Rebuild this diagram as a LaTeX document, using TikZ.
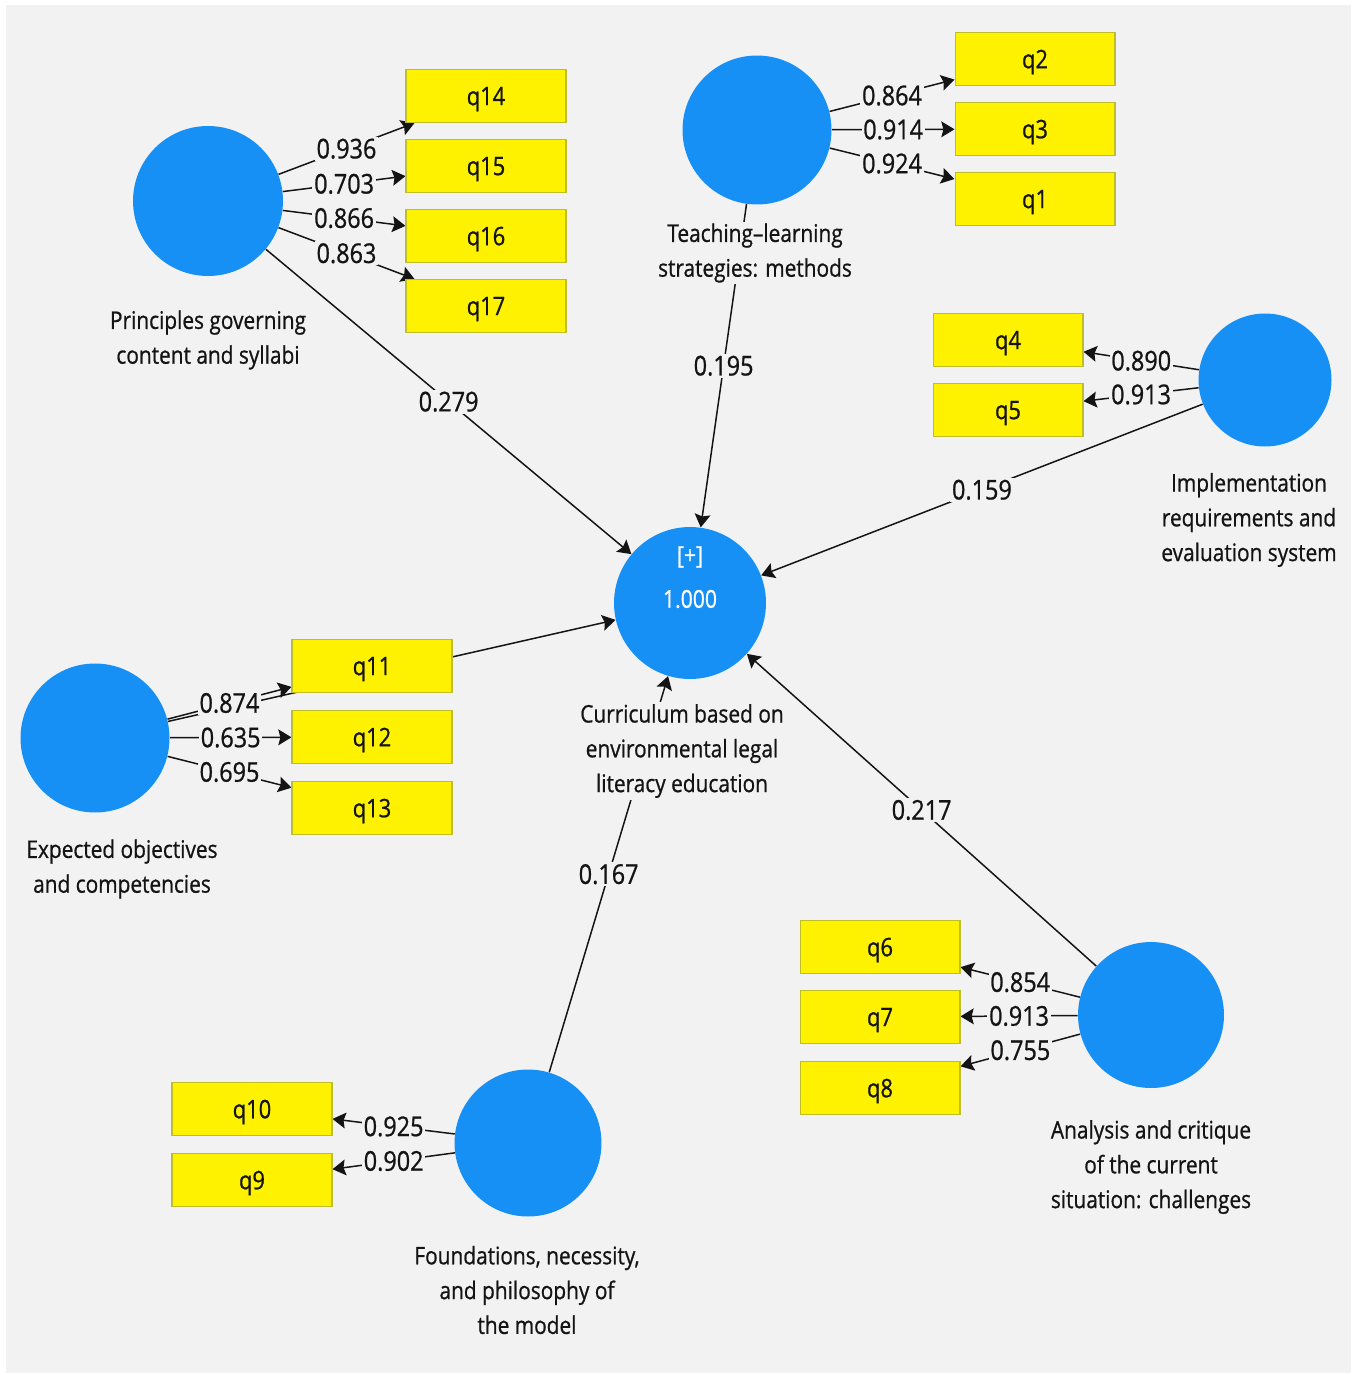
\documentclass[tikz,border=0pt]{standalone}
\usepackage{fontspec}
\setmainfont[FakeStretch=0.86,FakeBold=0.8]{Open Sans}
\usetikzlibrary{arrows.meta}
\definecolor{plsblue}{RGB}{22,144,245}
\definecolor{bgcol}{RGB}{242,242,242}
\definecolor{boxline}{RGB}{190,190,40}
\definecolor{txt}{RGB}{20,20,20}
\pgfdeclarelayer{back}
\pgfsetlayers{back,main}
\begin{document}
\begin{tikzpicture}[x=0.02cm,y=-0.02cm,
 lvnode/.style={circle,fill=plsblue,inner sep=0pt,minimum size=3cm},
 indbox/.style={rectangle,fill=yellow,draw=boxline,line width=0.6pt,minimum width=3.2cm,minimum height=1.06cm,font=\fontsize{14.5}{17}\selectfont,text=txt,inner sep=0pt,text depth=0pt},
 caplbl/.style={align=center,fill=bgcol,inner sep=1pt,font=\fontsize{13.8}{19.8}\selectfont,text=txt},
 numlbl/.style={fill=bgcol,inner sep=1pt,font=\fontsize{15.5}{18}\selectfont,text=txt,pos=0.5},
 loadarrow/.style={draw=txt,line width=0.85pt,-{Stealth[length=7.5pt,width=9pt,inset=1.2pt]}},
 structarrow/.style={draw=txt,line width=0.85pt,-{Stealth[length=7.5pt,width=9pt,inset=1.2pt]}},
 innertxt/.style={text=white,font=\fontsize{14}{17}\selectfont,inner sep=0pt}
]
\useasboundingbox (0,0) rectangle (1355,1375);
\begin{pgfonlayer}{back}
\fill[white] (0,0) rectangle (1355,1375);
\fill[bgcol] (6,5) rectangle (1351,1373);
\end{pgfonlayer}

% latent variables
\node[lvnode] (prin) at (208,201) {};
\node[lvnode,minimum size=2.98cm] (teach) at (757,130) {};
\node[lvnode,minimum size=2.66cm] (impl) at (1265,380) {};
\node[lvnode,minimum size=3.04cm] (curr) at (690,603) {};
\node[lvnode,minimum size=2.98cm] (expo) at (95,738) {};
\node[lvnode,minimum size=2.94cm] (found) at (528,1143) {};
\node[lvnode,minimum size=2.92cm] (anal) at (1151,1015) {};

\node[innertxt] (plus) at (690,557) {[+]};
\node[innertxt] (rsq) at (690,599) {1.000};

% indicators
\node[indbox] (q14) at (486,96) {q14};
\node[indbox] (q15) at (486,166) {q15};
\node[indbox] (q16) at (486,236) {q16};
\node[indbox] (q17) at (486,306) {q17};
\node[indbox] (q2) at (1035,59) {q2};
\node[indbox] (q3) at (1035,129) {q3};
\node[indbox] (q1) at (1035,199) {q1};
\node[indbox,minimum width=3.0cm] (q4) at (1008,340) {q4};
\node[indbox,minimum width=3.0cm] (q5) at (1008,410) {q5};
\node[indbox] (q11) at (372,666) {q11};
\node[indbox] (q12) at (372,737) {q12};
\node[indbox] (q13) at (372,808) {q13};
\node[indbox] (q6) at (880,947) {q6};
\node[indbox] (q7) at (880,1017) {q7};
\node[indbox] (q8) at (880,1088) {q8};
\node[indbox] (q10) at (252,1109) {q10};
\node[indbox] (q9) at (252,1180) {q9};

% captions
\node[caplbl] (prinlbl) at (208,340) {Principles governing\\content and syllabi};
\node[caplbl] (teachlbl) at (755,253) {Teaching–learning\\strategies: methods};
\node[caplbl] (impllbl) at (1249,520) {Implementation\\requirements and\\evaluation system};
\node[caplbl] (currlbl) at (682,751) {Curriculum based on\\environmental legal\\literacy education};
\node[caplbl] (expolbl) at (122,869) {Expected objectives\\and competencies};
\node[caplbl] (foundlbl) at (527,1290) {Foundations, necessity,\\and philosophy of\\the model};
\node[caplbl] (anallbl) at (1151,1167) {Analysis and critique\\of the current\\situation: challenges};

\begin{pgfonlayer}{back}
% structural paths
\draw[structarrow] (expo) -- (curr);
\draw[structarrow] (prin) -- node[numlbl]{0.279} (curr);
\draw[structarrow] (teach) -- node[numlbl]{0.195} (curr);
\draw[structarrow] (impl) -- node[numlbl]{0.159} (curr);
\draw[structarrow] (anal) -- node[numlbl]{0.217} (curr);
\draw[structarrow] (found) -- node[numlbl]{0.167} (curr);
% loadings
\draw[loadarrow] (prin) -- node[numlbl]{0.936} (q14);
\draw[loadarrow] (prin) -- node[numlbl]{0.703} (q15);
\draw[loadarrow] (prin) -- node[numlbl]{0.866} (q16);
\draw[loadarrow] (prin) -- node[numlbl]{0.863} (q17);
\draw[loadarrow] (teach) -- node[numlbl]{0.864} (q2);
\draw[loadarrow] (teach) -- node[numlbl]{0.914} (q3);
\draw[loadarrow] (teach) -- node[numlbl]{0.924} (q1);
\draw[loadarrow] (impl) -- node[numlbl]{0.890} (q4);
\draw[loadarrow] (impl) -- node[numlbl]{0.913} (q5);
\draw[loadarrow] (expo) -- node[numlbl]{0.874} (q11);
\draw[loadarrow] (expo) -- node[numlbl]{0.635} (q12);
\draw[loadarrow] (expo) -- node[numlbl]{0.695} (q13);
\draw[loadarrow] (anal) -- node[numlbl]{0.854} (q6);
\draw[loadarrow] (anal) -- node[numlbl]{0.913} (q7);
\draw[loadarrow] (anal) -- node[numlbl]{0.755} (q8);
\draw[loadarrow] (found) -- node[numlbl]{0.925} (q10);
\draw[loadarrow] (found) -- node[numlbl]{0.902} (q9);
\end{pgfonlayer}
\end{tikzpicture}
\end{document}
